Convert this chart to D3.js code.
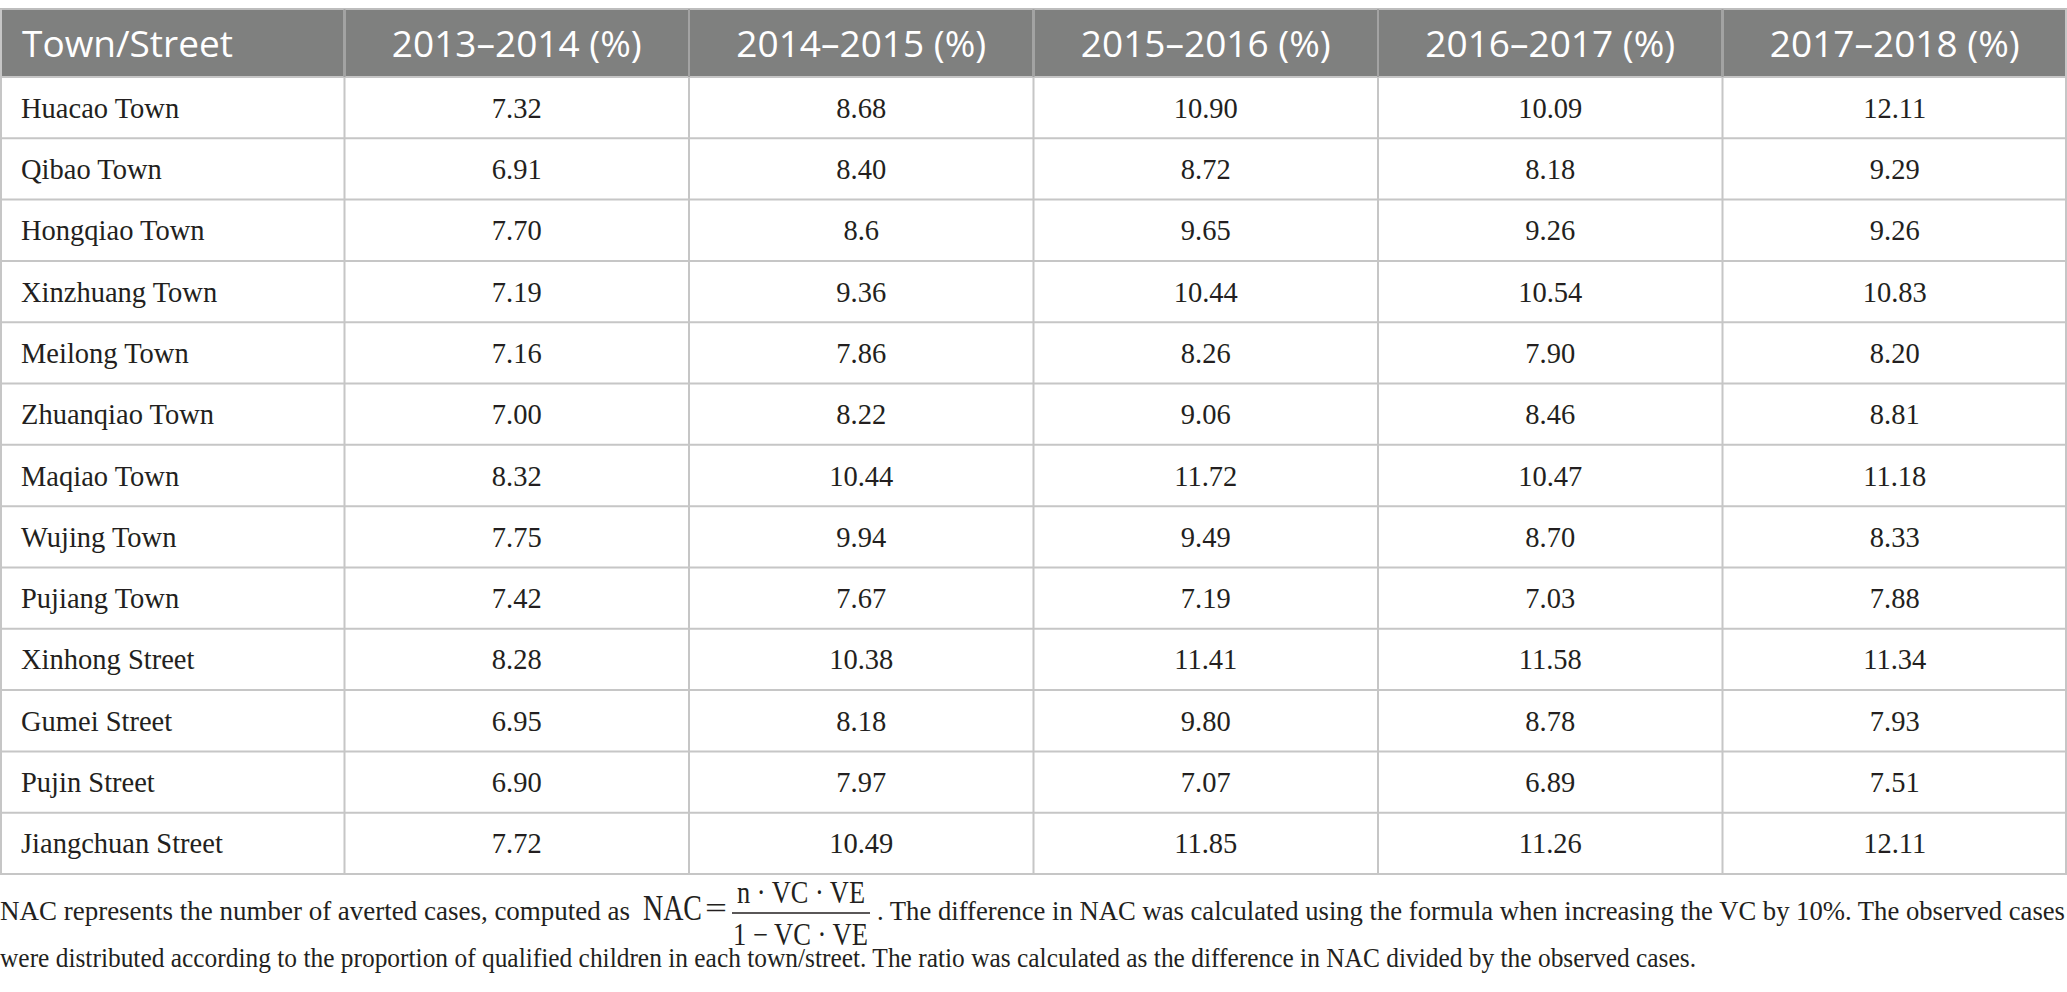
<!DOCTYPE html>
<html>
<head>
<meta charset="utf-8">
<script src="https://cdn.jsdelivr.net/npm/d3@7"></script>
<style>
  body { margin: 0; background: #fff; }
</style>
</head>
<body>
<div id="table"></div>
<script>
const headers = ['Town/Street', '2013–2014 (%)', '2014–2015 (%)', '2015–2016 (%)', '2016–2017 (%)', '2017–2018 (%)'];
const towns = ['Huacao Town', 'Qibao Town', 'Hongqiao Town', 'Xinzhuang Town', 'Meilong Town', 'Zhuanqiao Town',
  'Maqiao Town', 'Wujing Town', 'Pujiang Town', 'Xinhong Street', 'Gumei Street', 'Pujin Street', 'Jiangchuan Street'];
const y2013 = ['7.32', '6.91', '7.70', '7.19', '7.16', '7.00', '8.32', '7.75', '7.42', '8.28', '6.95', '6.90', '7.72'];
const y2014 = ['8.68', '8.40', '8.6', '9.36', '7.86', '8.22', '10.44', '9.94', '7.67', '10.38', '8.18', '7.97', '10.49'];
const y2015 = ['10.90', '8.72', '9.65', '10.44', '8.26', '9.06', '11.72', '9.49', '7.19', '11.41', '9.80', '7.07', '11.85'];
const y2016 = ['10.09', '8.18', '9.26', '10.54', '7.90', '8.46', '10.47', '8.70', '7.03', '11.58', '8.78', '6.89', '11.26'];
const y2017 = ['12.11', '9.29', '9.26', '10.83', '8.20', '8.81', '11.18', '8.33', '7.88', '11.34', '7.93', '7.51', '12.11'];

const footLine1a = 'NAC represents the number of averted cases, computed as';
const footLine1b = '. The difference in NAC was calculated using the formula when increasing the VC by 10%. The observed cases';
const footLine2 = 'were distributed according to the proportion of qualified children in each town/street. The ratio was calculated as the difference in NAC divided by the observed cases.';

const columns = [towns, y2013, y2014, y2015, y2016, y2017];

const size = { width: 2067, height: 992 };
const margin = { top: 9, header: 68, bottom: 874 };

const serif = '"Liberation Serif", "Times New Roman", serif';
const sans = '"Open Sans", "Noto Sans", sans-serif';

const svg = d3.select('#table')
  .append('svg')
  .attr('width', size.width)
  .attr('height', size.height);

const x = d3.scaleBand()
  .domain(d3.range(headers.length))
  .range([0, size.width]);

const y = d3.scaleBand()
  .domain(d3.range(towns.length))
  .range([margin.top + margin.header, margin.bottom]);

// header band
svg.append('rect')
  .attr('x', 0)
  .attr('y', margin.top)
  .attr('width', size.width)
  .attr('height', margin.header)
  .attr('fill', '#7f807f');

svg.append('line')
  .attr('x1', 0).attr('x2', size.width)
  .attr('y1', margin.top).attr('y2', margin.top)
  .attr('stroke', '#bdbdbd').attr('stroke-width', 2);

// grid lines
const grid = svg.append('g').attr('stroke', '#c6c6c6').attr('stroke-width', 2);

grid.selectAll('.hline')
  .data(d3.range(towns.length + 1))
  .join('line')
  .attr('x1', 0).attr('x2', size.width)
  .attr('y1', (d) => (d < towns.length ? y(d) : margin.bottom))
  .attr('y2', (d) => (d < towns.length ? y(d) : margin.bottom));

const edge = (d) => Math.min(Math.max(d < headers.length ? x(d) : size.width, 1), size.width - 1);
grid.selectAll('.vline')
  .data(d3.range(headers.length + 1))
  .join('line')
  .attr('x1', edge)
  .attr('x2', edge)
  .attr('y1', margin.top)
  .attr('y2', margin.bottom);

// header separators (lighter on the dark band)
svg.append('g')
  .selectAll('line')
  .data(d3.range(1, headers.length))
  .join('line')
  .attr('x1', (d) => x(d)).attr('x2', (d) => x(d))
  .attr('y1', margin.top).attr('y2', margin.top + margin.header)
  .attr('stroke', '#a3a3a3').attr('stroke-width', 2);

// header text
svg.append('g')
  .selectAll('text')
  .data(headers)
  .join('text')
  .text((d) => d)
  .attr('x', (d, i) => (i === 0 ? 22 : x(i) + x.bandwidth() / 2))
  .attr('y', margin.top + 48)
  .attr('text-anchor', (d, i) => (i === 0 ? 'start' : 'middle'))
  .attr('font-family', sans)
  .attr('font-size', '37px')
  .attr('fill', '#fff');

// body cells
columns.forEach((col, ci) => {
  svg.append('g')
    .selectAll('text')
    .data(col)
    .join('text')
    .text((d) => d)
    .attr('x', ci === 0 ? 21 : x(ci) + x.bandwidth() / 2)
    .attr('y', (d, ri) => y(ri) + y.bandwidth() / 2 + 10)
    .attr('text-anchor', ci === 0 ? 'start' : 'middle')
    .attr('font-family', serif)
    .attr('font-size', '28.5px')
    .attr('fill', '#231f20');
});

// footnote
const foot = svg.append('g')
  .attr('font-family', serif)
  .attr('font-size', '28px')
  .attr('fill', '#231f20');

const fit = (sel, len) => sel.attr('textLength', len).attr('lengthAdjust', 'spacingAndGlyphs');

foot.append('text').attr('x', 0).attr('y', 920).text(footLine1a).call(fit, 630);
foot.append('text').attr('x', 877).attr('y', 920).text(footLine1b).call(fit, 2065 - 877);
foot.append('text').attr('x', 0).attr('y', 967).text(footLine2).call(fit, 1696);

// formula
foot.append('text').attr('x', 643).attr('y', 920).attr('font-size', '36px').text('NAC').call(fit, 59);
foot.append('text').attr('x', 705).attr('y', 918).attr('font-size', '30px').text('=').call(fit, 22);
foot.append('line')
  .attr('x1', 732).attr('x2', 870)
  .attr('y1', 913).attr('y2', 913)
  .attr('stroke', '#231f20').attr('stroke-width', 1.5);
foot.append('text').attr('x', 737).attr('y', 903)
  .attr('font-size', '31px').text('n · VC · VE').call(fit, 128);
foot.append('text').attr('x', 733).attr('y', 945)
  .attr('font-size', '31px').text('1 − VC · VE').call(fit, 135);
</script>
</body>
</html>
